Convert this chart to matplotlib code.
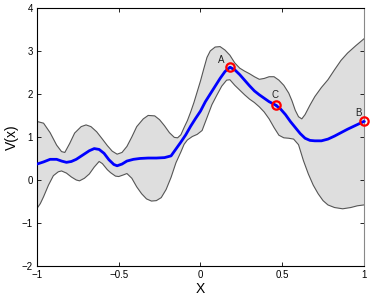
import numpy as np
import matplotlib
matplotlib.use("Agg")
import matplotlib.pyplot as plt

plt.rcParams['font.family'] = ['Liberation Sans', 'DejaVu Sans']

# upper confidence bound
upper_x = [-1.00, -0.96, -0.92, -0.88, -0.85, -0.83, -0.80, -0.77, -0.73, -0.70,
           -0.67, -0.635, -0.60, -0.57, -0.54, -0.51, -0.48, -0.45, -0.42, -0.39,
           -0.35, -0.32, -0.28, -0.25, -0.22, -0.19, -0.16, -0.14, -0.12, -0.10,
           -0.08, -0.06, -0.04, -0.02, 0.00, 0.02, 0.04, 0.06, 0.09, 0.12,
           0.15, 0.18, 0.21, 0.24, 0.27, 0.30, 0.33, 0.36, 0.39, 0.42,
           0.45, 0.48, 0.51, 0.54, 0.56, 0.58, 0.60, 0.62, 0.64, 0.67,
           0.70, 0.74, 0.78, 0.82, 0.86, 0.90, 0.95, 1.00]
upper_y = [1.36, 1.32, 1.10, 0.81, 0.66, 0.64, 0.85, 1.09, 1.24, 1.28,
           1.24, 1.12, 0.95, 0.80, 0.67, 0.60, 0.64, 0.78, 1.00, 1.24,
           1.42, 1.50, 1.49, 1.40, 1.26, 1.10, 0.99, 0.98, 1.05, 1.22,
           1.38, 1.58, 1.80, 2.05, 2.30, 2.58, 2.85, 3.00, 3.09, 3.10,
           3.02, 2.90, 2.72, 2.60, 2.53, 2.47, 2.40, 2.34, 2.36, 2.40,
           2.40, 2.32, 2.20, 2.02, 1.84, 1.62, 1.47, 1.42, 1.52, 1.74,
           1.94, 2.15, 2.33, 2.56, 2.78, 2.95, 3.12, 3.28]

# lower confidence bound
lower_x = [-1.00, -0.98, -0.96, -0.93, -0.90, -0.87, -0.85, -0.82, -0.79, -0.76,
           -0.74, -0.71, -0.68, -0.65, -0.62, -0.60, -0.57, -0.55, -0.52, -0.50,
           -0.47, -0.45, -0.42, -0.39, -0.36, -0.33, -0.30, -0.27, -0.24, -0.21,
           -0.18, -0.15, -0.12, -0.10, -0.08, -0.05, -0.02, 0.01, 0.04, 0.07,
           0.10, 0.13, 0.16, 0.18, 0.21, 0.24, 0.27, 0.30, 0.33, 0.36,
           0.39, 0.42, 0.45, 0.48, 0.51, 0.54, 0.57, 0.60, 0.63, 0.66,
           0.69, 0.72, 0.75, 0.78, 0.82, 0.87, 0.92, 0.96, 1.00]
lower_y = [-0.66, -0.55, -0.39, -0.12, 0.10, 0.19, 0.21, 0.16, 0.07, 0.00,
           -0.02, 0.04, 0.14, 0.30, 0.43, 0.38, 0.24, 0.17, 0.09, 0.08,
           0.12, 0.15, 0.04, -0.16, -0.32, -0.44, -0.49, -0.48, -0.41, -0.22,
           0.06, 0.40, 0.65, 0.83, 0.93, 1.01, 1.06, 1.15, 1.45, 1.75,
           1.97, 2.18, 2.32, 2.33, 2.20, 2.09, 1.98, 1.88, 1.80, 1.70,
           1.58, 1.42, 1.22, 1.04, 0.98, 0.97, 0.95, 0.82, 0.45, 0.14,
           -0.12, -0.32, -0.48, -0.58, -0.64, -0.67, -0.64, -0.60, -0.58]

# posterior mean
mean_x = [-1.00, -0.96, -0.92, -0.88, -0.85, -0.82, -0.79, -0.76, -0.72, -0.68,
          -0.65, -0.62, -0.59, -0.56, -0.53, -0.51, -0.48, -0.45, -0.41, -0.37,
          -0.32, -0.27, -0.22, -0.18, -0.15, -0.12, -0.09, -0.06, -0.03, 0.00,
          0.03, 0.06, 0.09, 0.12, 0.15, 0.18, 0.21, 0.24, 0.27, 0.30,
          0.33, 0.36, 0.39, 0.42, 0.46, 0.49, 0.52, 0.55, 0.58, 0.61,
          0.64, 0.67, 0.70, 0.74, 0.78, 0.82, 0.86, 0.90, 0.95, 1.00]
mean_y = [0.37, 0.42, 0.48, 0.48, 0.44, 0.41, 0.43, 0.48, 0.58, 0.68,
          0.73, 0.71, 0.62, 0.47, 0.36, 0.33, 0.37, 0.44, 0.48, 0.50,
          0.51, 0.51, 0.52, 0.56, 0.72, 0.88, 1.05, 1.25, 1.43, 1.60,
          1.82, 2.00, 2.18, 2.36, 2.52, 2.62, 2.56, 2.45, 2.32, 2.19,
          2.07, 1.98, 1.90, 1.82, 1.74, 1.65, 1.52, 1.36, 1.22, 1.08,
          0.97, 0.92, 0.91, 0.91, 0.95, 1.02, 1.10, 1.18, 1.27, 1.36]

# sampled points
pt_names = ['A', 'C', 'B']
pt_x = [0.18, 0.46, 1.00]
pt_y = [2.62, 1.74, 1.36]

fig = plt.figure(figsize=(3.74, 3.03), dpi=100)
ax = fig.add_axes([0.099, 0.122, 0.874, 0.852])

poly_x = upper_x + lower_x[::-1]
poly_y = upper_y + lower_y[::-1]
ax.fill(poly_x, poly_y, facecolor='#dedede', edgecolor='none', zorder=1)
ax.plot(upper_x, upper_y, color='#555555', lw=0.8, zorder=2)
ax.plot(lower_x, lower_y, color='#555555', lw=0.8, zorder=2)
ax.plot(mean_x, mean_y, color='#0000ff', lw=2.0, zorder=3)
ax.plot(pt_x, pt_y, 'o', ms=6, mfc='none', mec='red', mew=1.6, zorder=4, clip_on=False)
ax.plot(pt_x, pt_y, '.', ms=1.5, color='blue', zorder=5, clip_on=False)

# point labels
lbl_dx = [-0.055, -0.005, -0.035]
lbl_dy = [0.16, 0.24, 0.20]
for n, x, y, dx, dy in zip(pt_names, pt_x, pt_y, lbl_dx, lbl_dy):
    ax.text(x + dx, y + dy, n, fontsize=7, ha='center', va='center', color='#222222')

ax.set_xlim(-1, 1)
ax.set_ylim(-2, 4)
ax.set_xticks([-1, -0.5, 0, 0.5, 1])
ax.set_xticklabels(['\u22121', '\u22120.5', '0', '0.5', '1'])
ax.set_yticks([-2, -1, 0, 1, 2, 3, 4])
ax.set_yticklabels(['\u22122', '\u22121', '0', '1', '2', '3', '4'])
ax.tick_params(direction='in', top=True, right=True, labelsize=7, length=3, width=0.6, pad=3)
for s in ax.spines.values():
    s.set_linewidth(0.8)
ax.spines['right'].set_color('#888888')

ax.set_xlabel('X', fontsize=10, labelpad=1)
ax.set_ylabel('V(x)', fontsize=10, labelpad=2)

fig.savefig('out.png', dpi=100)
